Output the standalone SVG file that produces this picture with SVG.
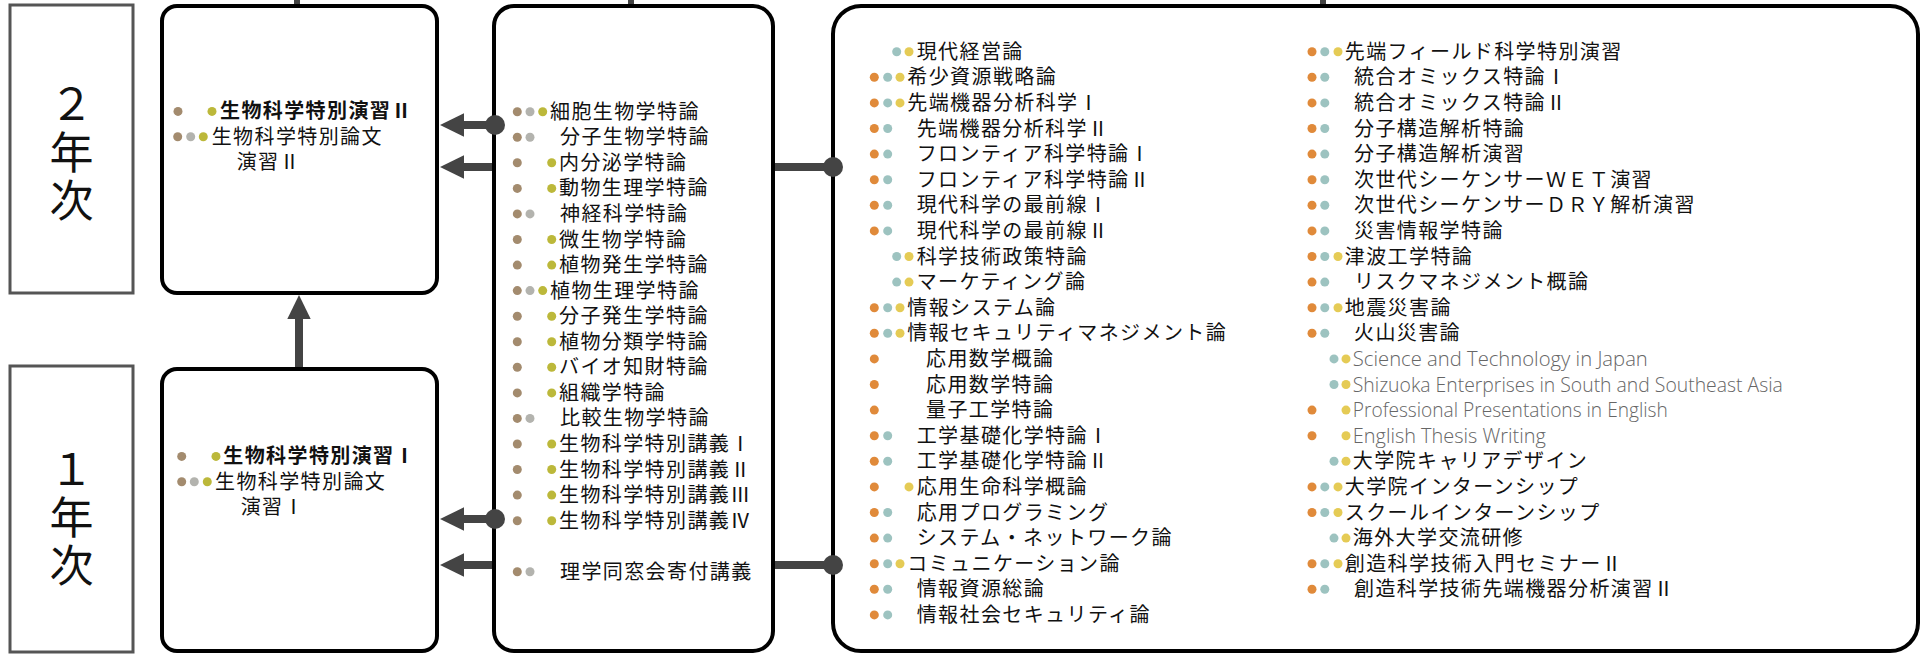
<svg xmlns="http://www.w3.org/2000/svg" width="1927" height="654" viewBox="0 0 1927 654">
<style>
.yr{fill:#fff;stroke:#555;stroke-width:3}
.bx{fill:#fff;stroke:#000;stroke-width:4}
.yl{font-family:"Noto Sans CJK JP","Noto Sans CJK SC",sans-serif;font-size:44px;fill:#111;text-anchor:middle;writing-mode:vertical-rl;letter-spacing:4px}
.t{font-family:"Noto Sans CJK JP","Noto Sans CJK SC",sans-serif;font-size:20px;letter-spacing:1.4px;fill:#111}
.bd{font-weight:700}
.en{font-family:"Open Sans","Lato",sans-serif;font-weight:300;font-size:20px;fill:#666}
circle{r:4.5px}
.b{fill:#A38B6E}.g{fill:#B3B3AE}.o{fill:#BCB83A}
.O{fill:#E08A3A}.T{fill:#9DC3C0}.Y{fill:#E5CB55}
.ln{stroke:#444;stroke-width:8;fill:none}
.tp{stroke:#444;stroke-width:6;fill:none}
.jd{fill:#444;r:10px}
</style>
<defs>
<marker id="ah" markerUnits="userSpaceOnUse" markerWidth="24" markerHeight="24" refX="12" refY="11.7" orient="auto">
<path d="M0,0 L24,11.7 L0,23.4 z" fill="#444"/>
</marker>
</defs>

<g id="connectors">
<path class="tp" d="M297,0 V8 M631,0 V8 M1323,0 V8"/>
<path class="ln" d="M299,369 V307" marker-end="url(#ah)"/>
<path class="ln" d="M495,125 H452" marker-end="url(#ah)"/>
<path class="ln" d="M833,167 H452" marker-end="url(#ah)"/>
<path class="ln" d="M495,519 H452" marker-end="url(#ah)"/>
<path class="ln" d="M833,565 H452" marker-end="url(#ah)"/>
</g>

<g id="year2">
<rect class="yr" x="10" y="5" width="123" height="288"/>
<text class="yl" x="71.5" y="154">２年次</text>
</g>

<g id="year1">
<rect class="yr" x="10" y="366" width="123" height="286"/>
<text class="yl" x="71.5" y="519">１年次</text>
</g>

<g id="courses2">
<rect class="bx" x="162" y="6" width="275" height="287" rx="15"/>
<g transform="translate(0,111.4)"><circle class="b" cx="178" cy="0"/><circle class="o" cx="212" cy="0"/><text class="t bd" x="220" y="7">生物科学特別演習Ⅱ</text></g>
<g transform="translate(0,136.7)"><circle class="b" cx="177.7" cy="0"/><circle class="g" cx="190.7" cy="0"/><circle class="o" cx="203.3" cy="0"/><text class="t" x="211.7" y="7">生物科学特別論文</text></g>
<text class="t" x="236.7" y="169">演習Ⅱ</text>
</g>

<g id="courses1">
<rect class="bx" x="162" y="369" width="275" height="282" rx="15"/>
<g transform="translate(0,456.4)"><circle class="b" cx="181.7" cy="0"/><circle class="o" cx="216" cy="0"/><text class="t bd" x="223.3" y="7">生物科学特別演習Ⅰ</text></g>
<g transform="translate(0,481.7)"><circle class="b" cx="181.7" cy="0"/><circle class="g" cx="194.3" cy="0"/><circle class="o" cx="207.3" cy="0"/><text class="t" x="215" y="7">生物科学特別論文</text></g>
<text class="t" x="240.7" y="514">演習Ⅰ</text>
</g>

<g id="biology">
<rect class="bx" x="494" y="6" width="279" height="645" rx="20"/>
<g transform="translate(0,111.7)"><circle class="b" cx="517.3" cy="0"/><circle class="g" cx="530" cy="0"/><circle class="o" cx="542.7" cy="0"/><text class="t" x="550" y="7">細胞生物学特論</text></g>
<g transform="translate(0,137.3)"><circle class="b" cx="517.3" cy="0"/><circle class="g" cx="530" cy="0"/><text class="t" x="560" y="7">分子生物学特論</text></g>
<g transform="translate(0,162.8)"><circle class="b" cx="517.3" cy="0"/><circle class="o" cx="551.7" cy="0"/><text class="t" x="559" y="7">内分泌学特論</text></g>
<g transform="translate(0,188.4)"><circle class="b" cx="517.3" cy="0"/><circle class="o" cx="551.7" cy="0"/><text class="t" x="559" y="7">動物生理学特論</text></g>
<g transform="translate(0,213.9)"><circle class="b" cx="517.3" cy="0"/><circle class="g" cx="530" cy="0"/><text class="t" x="560" y="7">神経科学特論</text></g>
<g transform="translate(0,239.5)"><circle class="b" cx="517.3" cy="0"/><circle class="o" cx="551.7" cy="0"/><text class="t" x="559" y="7">微生物学特論</text></g>
<g transform="translate(0,265.1)"><circle class="b" cx="517.3" cy="0"/><circle class="o" cx="551.7" cy="0"/><text class="t" x="559" y="7">植物発生学特論</text></g>
<g transform="translate(0,290.6)"><circle class="b" cx="517.3" cy="0"/><circle class="g" cx="530" cy="0"/><circle class="o" cx="542.7" cy="0"/><text class="t" x="550" y="7">植物生理学特論</text></g>
<g transform="translate(0,316.2)"><circle class="b" cx="517.3" cy="0"/><circle class="o" cx="551.7" cy="0"/><text class="t" x="559" y="7">分子発生学特論</text></g>
<g transform="translate(0,341.7)"><circle class="b" cx="517.3" cy="0"/><circle class="o" cx="551.7" cy="0"/><text class="t" x="559" y="7">植物分類学特論</text></g>
<g transform="translate(0,367.3)"><circle class="b" cx="517.3" cy="0"/><circle class="o" cx="551.7" cy="0"/><text class="t" x="559" y="7">バイオ知財特論</text></g>
<g transform="translate(0,392.9)"><circle class="b" cx="517.3" cy="0"/><circle class="o" cx="551.7" cy="0"/><text class="t" x="559" y="7">組織学特論</text></g>
<g transform="translate(0,418.4)"><circle class="b" cx="517.3" cy="0"/><circle class="g" cx="530" cy="0"/><text class="t" x="560" y="7">比較生物学特論</text></g>
<g transform="translate(0,444)"><circle class="b" cx="517.3" cy="0"/><circle class="o" cx="551.7" cy="0"/><text class="t" x="559" y="7">生物科学特別講義Ⅰ</text></g>
<g transform="translate(0,469.5)"><circle class="b" cx="517.3" cy="0"/><circle class="o" cx="551.7" cy="0"/><text class="t" x="559" y="7">生物科学特別講義Ⅱ</text></g>
<g transform="translate(0,495.1)"><circle class="b" cx="517.3" cy="0"/><circle class="o" cx="551.7" cy="0"/><text class="t" x="559" y="7">生物科学特別講義Ⅲ</text></g>
<g transform="translate(0,520.7)"><circle class="b" cx="517.3" cy="0"/><circle class="o" cx="551.7" cy="0"/><text class="t" x="559" y="7">生物科学特別講義Ⅳ</text></g>
<g transform="translate(0,571.8)"><circle class="b" cx="517.3" cy="0"/><circle class="g" cx="530" cy="0"/><text class="t" x="560" y="7">理学同窓会寄付講義</text></g>
</g>

<g id="common">
<rect class="bx" x="833" y="6" width="1085" height="645" rx="28"/>
<g transform="translate(0,51.7)"><circle class="T" cx="896.7" cy="0"/><circle class="Y" cx="909" cy="0"/><text class="t" x="916.7" y="7">現代経営論</text></g>
<g transform="translate(0,77.3)"><circle class="O" cx="874.3" cy="0"/><circle class="T" cx="887.7" cy="0"/><circle class="Y" cx="900" cy="0"/><text class="t" x="907.3" y="7">希少資源戦略論</text></g>
<g transform="translate(0,102.9)"><circle class="O" cx="874.3" cy="0"/><circle class="T" cx="887.7" cy="0"/><circle class="Y" cx="900" cy="0"/><text class="t" x="907.3" y="7">先端機器分析科学Ⅰ</text></g>
<g transform="translate(0,128.5)"><circle class="O" cx="874.3" cy="0"/><circle class="T" cx="887.7" cy="0"/><text class="t" x="916.7" y="7">先端機器分析科学Ⅱ</text></g>
<g transform="translate(0,154.1)"><circle class="O" cx="874.3" cy="0"/><circle class="T" cx="887.7" cy="0"/><text class="t" x="916.7" y="7">フロンティア科学特論Ⅰ</text></g>
<g transform="translate(0,179.7)"><circle class="O" cx="874.3" cy="0"/><circle class="T" cx="887.7" cy="0"/><text class="t" x="916.7" y="7">フロンティア科学特論Ⅱ</text></g>
<g transform="translate(0,205.3)"><circle class="O" cx="874.3" cy="0"/><circle class="T" cx="887.7" cy="0"/><text class="t" x="916.7" y="7">現代科学の最前線Ⅰ</text></g>
<g transform="translate(0,230.9)"><circle class="O" cx="874.3" cy="0"/><circle class="T" cx="887.7" cy="0"/><text class="t" x="916.7" y="7">現代科学の最前線Ⅱ</text></g>
<g transform="translate(0,256.5)"><circle class="T" cx="896.7" cy="0"/><circle class="Y" cx="909" cy="0"/><text class="t" x="916.7" y="7">科学技術政策特論</text></g>
<g transform="translate(0,282.1)"><circle class="T" cx="896.7" cy="0"/><circle class="Y" cx="909" cy="0"/><text class="t" x="916.7" y="7">マーケティング論</text></g>
<g transform="translate(0,307.7)"><circle class="O" cx="874.3" cy="0"/><circle class="T" cx="887.7" cy="0"/><circle class="Y" cx="900" cy="0"/><text class="t" x="907.3" y="7">情報システム論</text></g>
<g transform="translate(0,333.3)"><circle class="O" cx="874.3" cy="0"/><circle class="T" cx="887.7" cy="0"/><circle class="Y" cx="900" cy="0"/><text class="t" x="907.3" y="7">情報セキュリティマネジメント論</text></g>
<g transform="translate(0,358.9)"><circle class="O" cx="874.3" cy="0"/><text class="t" x="926" y="7">応用数学概論</text></g>
<g transform="translate(0,384.5)"><circle class="O" cx="874.3" cy="0"/><text class="t" x="926" y="7">応用数学特論</text></g>
<g transform="translate(0,410.1)"><circle class="O" cx="874.3" cy="0"/><text class="t" x="926" y="7">量子工学特論</text></g>
<g transform="translate(0,435.7)"><circle class="O" cx="874.3" cy="0"/><circle class="T" cx="887.7" cy="0"/><text class="t" x="916.7" y="7">工学基礎化学特論Ⅰ</text></g>
<g transform="translate(0,461.3)"><circle class="O" cx="874.3" cy="0"/><circle class="T" cx="887.7" cy="0"/><text class="t" x="916.7" y="7">工学基礎化学特論Ⅱ</text></g>
<g transform="translate(0,486.9)"><circle class="O" cx="874.3" cy="0"/><circle class="Y" cx="909" cy="0"/><text class="t" x="916.7" y="7">応用生命科学概論</text></g>
<g transform="translate(0,512.5)"><circle class="O" cx="874.3" cy="0"/><circle class="T" cx="887.7" cy="0"/><text class="t" x="916.7" y="7">応用プログラミング</text></g>
<g transform="translate(0,538.1)"><circle class="O" cx="874.3" cy="0"/><circle class="T" cx="887.7" cy="0"/><text class="t" x="916.7" y="7">システム・ネットワーク論</text></g>
<g transform="translate(0,563.7)"><circle class="O" cx="874.3" cy="0"/><circle class="T" cx="887.7" cy="0"/><circle class="Y" cx="900" cy="0"/><text class="t" x="907.3" y="7">コミュニケーション論</text></g>
<g transform="translate(0,589.3)"><circle class="O" cx="874.3" cy="0"/><circle class="T" cx="887.7" cy="0"/><text class="t" x="916.7" y="7">情報資源総論</text></g>
<g transform="translate(0,614.9)"><circle class="O" cx="874.3" cy="0"/><circle class="T" cx="887.7" cy="0"/><text class="t" x="916.7" y="7">情報社会セキュリティ論</text></g>

<g transform="translate(0,51.7)"><circle class="O" cx="1312" cy="0"/><circle class="T" cx="1324.8" cy="0"/><circle class="Y" cx="1338" cy="0"/><text class="t" x="1344.8" y="7">先端フィールド科学特別演習</text></g>
<g transform="translate(0,77.3)"><circle class="O" cx="1312" cy="0"/><circle class="T" cx="1324.8" cy="0"/><text class="t" x="1354" y="7">統合オミックス特論Ⅰ</text></g>
<g transform="translate(0,102.9)"><circle class="O" cx="1312" cy="0"/><circle class="T" cx="1324.8" cy="0"/><text class="t" x="1354" y="7">統合オミックス特論Ⅱ</text></g>
<g transform="translate(0,128.5)"><circle class="O" cx="1312" cy="0"/><circle class="T" cx="1324.8" cy="0"/><text class="t" x="1354" y="7">分子構造解析特論</text></g>
<g transform="translate(0,154.1)"><circle class="O" cx="1312" cy="0"/><circle class="T" cx="1324.8" cy="0"/><text class="t" x="1354" y="7">分子構造解析演習</text></g>
<g transform="translate(0,179.7)"><circle class="O" cx="1312" cy="0"/><circle class="T" cx="1324.8" cy="0"/><text class="t" x="1354" y="7">次世代シーケンサーＷＥＴ演習</text></g>
<g transform="translate(0,205.3)"><circle class="O" cx="1312" cy="0"/><circle class="T" cx="1324.8" cy="0"/><text class="t" x="1354" y="7">次世代シーケンサーＤＲＹ解析演習</text></g>
<g transform="translate(0,230.9)"><circle class="O" cx="1312" cy="0"/><circle class="T" cx="1324.8" cy="0"/><text class="t" x="1354" y="7">災害情報学特論</text></g>
<g transform="translate(0,256.5)"><circle class="O" cx="1312" cy="0"/><circle class="T" cx="1324.8" cy="0"/><circle class="Y" cx="1338" cy="0"/><text class="t" x="1344.8" y="7">津波工学特論</text></g>
<g transform="translate(0,282.1)"><circle class="O" cx="1312" cy="0"/><circle class="T" cx="1324.8" cy="0"/><text class="t" x="1354" y="7">リスクマネジメント概論</text></g>
<g transform="translate(0,307.7)"><circle class="O" cx="1312" cy="0"/><circle class="T" cx="1324.8" cy="0"/><circle class="Y" cx="1338" cy="0"/><text class="t" x="1344.8" y="7">地震災害論</text></g>
<g transform="translate(0,333.3)"><circle class="O" cx="1312" cy="0"/><circle class="T" cx="1324.8" cy="0"/><text class="t" x="1354" y="7">火山災害論</text></g>
<g transform="translate(0,358.9)"><circle class="T" cx="1334" cy="0"/><circle class="Y" cx="1346" cy="0"/><text class="en" x="1352.8" y="7" textLength="295" lengthAdjust="spacingAndGlyphs">Science and Technology in Japan</text></g>
<g transform="translate(0,384.5)"><circle class="T" cx="1334" cy="0"/><circle class="Y" cx="1346" cy="0"/><text class="en" x="1352.8" y="7" textLength="430" lengthAdjust="spacingAndGlyphs">Shizuoka Enterprises in South and Southeast Asia</text></g>
<g transform="translate(0,410.1)"><circle class="O" cx="1312" cy="0"/><circle class="Y" cx="1346" cy="0"/><text class="en" x="1352.8" y="7" textLength="315" lengthAdjust="spacingAndGlyphs">Professional Presentations in English</text></g>
<g transform="translate(0,435.7)"><circle class="O" cx="1312" cy="0"/><circle class="Y" cx="1346" cy="0"/><text class="en" x="1352.8" y="7" textLength="193" lengthAdjust="spacingAndGlyphs">English Thesis Writing</text></g>
<g transform="translate(0,461.3)"><circle class="T" cx="1334" cy="0"/><circle class="Y" cx="1346" cy="0"/><text class="t" x="1352.8" y="7">大学院キャリアデザイン</text></g>
<g transform="translate(0,486.9)"><circle class="O" cx="1312" cy="0"/><circle class="T" cx="1324.8" cy="0"/><circle class="Y" cx="1338" cy="0"/><text class="t" x="1344.8" y="7">大学院インターンシップ</text></g>
<g transform="translate(0,512.5)"><circle class="O" cx="1312" cy="0"/><circle class="T" cx="1324.8" cy="0"/><circle class="Y" cx="1338" cy="0"/><text class="t" x="1344.8" y="7">スクールインターンシップ</text></g>
<g transform="translate(0,538.1)"><circle class="T" cx="1334" cy="0"/><circle class="Y" cx="1346" cy="0"/><text class="t" x="1352.8" y="7">海外大学交流研修</text></g>
<g transform="translate(0,563.7)"><circle class="O" cx="1312" cy="0"/><circle class="T" cx="1324.8" cy="0"/><circle class="Y" cx="1338" cy="0"/><text class="t" x="1344.8" y="7">創造科学技術入門セミナーⅡ</text></g>
<g transform="translate(0,589.3)"><circle class="O" cx="1312" cy="0"/><circle class="T" cx="1324.8" cy="0"/><text class="t" x="1354" y="7">創造科学技術先端機器分析演習Ⅱ</text></g>
</g>

<g id="junctions">
<circle class="jd" cx="495" cy="125" r="10"/>
<circle class="jd" cx="495" cy="519" r="10"/>
<circle class="jd" cx="833" cy="167" r="10"/>
<circle class="jd" cx="833" cy="565" r="10"/>
</g>
</svg>
